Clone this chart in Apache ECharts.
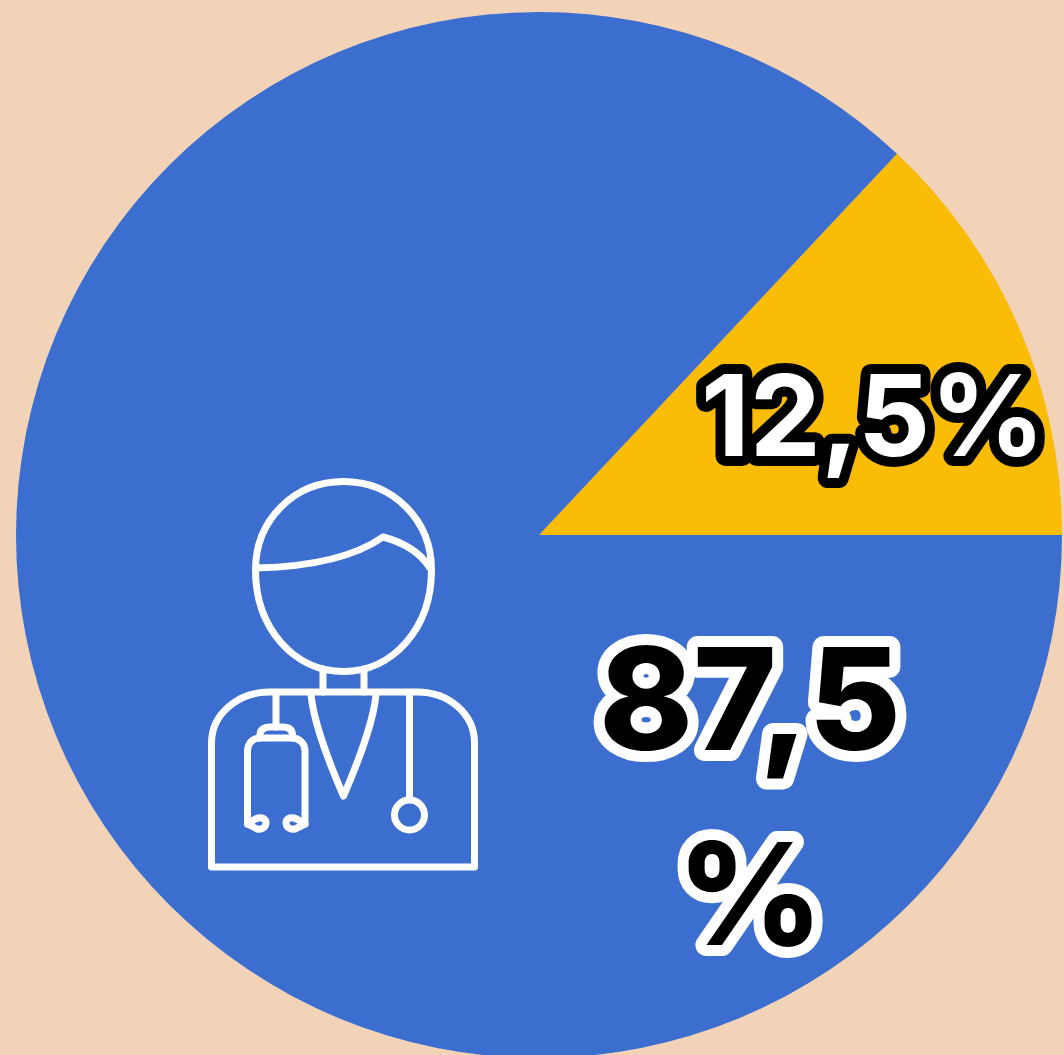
<!DOCTYPE html>
<html><head><meta charset="utf-8">
<style>html,body{margin:0;padding:0;background:#F3D3B8}#c{width:1064px;height:1055px}</style>
<script src="https://cdn.jsdelivr.net/npm/echarts@6/dist/echarts.min.js"></script>
</head><body><div id="c"></div>
<script>
const categories = ['Sí', 'No'];
const shares = [13, 87];
const labels = ['12,5%', '87,5\n%'];
const sliceColors = ['#FBBC05', '#3C6ECF'];

const iconStroke = {fill: 'none', stroke: '#fff', lineWidth: 7, lineJoin: 'round', lineCap: 'round'};
const iconPaths = [
  'M255.5 570 C255.5 520 294 481.5 343.5 481.5 C393 481.5 431.5 520 431.5 570 C431.5 628 393 671.5 343.5 671.5 C294 671.5 255.5 628 255.5 570 Z',
  'M256.5 568 C300 567 350 560 383 537 C402 542 420 552 430 568',
  'M323 669 V692 M364 669 V692',
  'M211.5 867 V743 C211.5 714 238 692 270 692 H417 C449 692 474.5 714 474.5 743 V867 Z',
  'M311 694 C313 720 330 765 343.5 796 C357 765 374 720 376 694',
  'M276 693 V727',
  'M260 738 V735 C260 729 265 727 270 727 H282 C288 727 292.5 729 292.5 735 V738',
  'M247.5 824 V751 C247.5 743 253 738 260 738 H292 C299 738 305 743 305 751 V824',
  'M247.5 824 L257 829 C262 830 266 827 266 823 C266 819 262 817 258 818 C254 819 251 822 247.5 824',
  'M305 824 L295 829 C290 830 286 827 286 823 C286 819 290 817 294 818 C298 819 301 822 305 824',
  'M409.5 695 V798',
  'M424.5 815 A15 15 0 1 1 394.5 815 A15 15 0 1 1 424.5 815 Z'
];
iconPaths.forEach((d, i) => echarts.graphic.registerShape('icon' + i, echarts.graphic.extendPath(d, {})));

const chart = echarts.init(document.getElementById('c'), null, {renderer: 'canvas'});
chart.setOption({
  animation: false,
  backgroundColor: '#F3D3B8',
  tooltip: {show: false},
  series: [{
    type: 'pie',
    center: [539, 535],
    radius: [0, 523],
    startAngle: shares[0] / 100 * 360,
    silent: true,
    avoidLabelOverlap: false,
    labelLine: {show: false},
    labelLayout: p => p.dataIndex === 0
      ? {x: 873, y: 422, align: 'center', verticalAlign: 'middle'}
      : {x: 750, y: 805, align: 'center', verticalAlign: 'middle'},
    data: categories.map((name, i) => ({
      name, value: shares[i],
      itemStyle: {color: sliceColors[i]},
      label: i === 0
        ? {show: true, position: 'inside', formatter: labels[i], color: '#fff', fontFamily: 'Inter', fontWeight: 700, fontSize: 113, textBorderColor: '#000', textBorderWidth: 20, lineHeight: 130}
        : {show: true, position: 'inside', formatter: labels[i], color: '#000', fontFamily: 'Inter', fontWeight: 800, fontSize: 142, textBorderColor: '#fff', textBorderWidth: 22, lineHeight: 195, align: 'center'}
    }))
  }],
  graphic: iconPaths.map((d, i) => ({type: 'icon' + i, silent: true, z: 50, style: iconStroke}))
});

const zr = chart.getZr();
zr.refreshImmediately();
zr.storage.getDisplayList(true).forEach(el => {
  if (el.style && el.style.text) { el.style.lineJoin = 'round'; el.dirty(); }
});
zr.refreshImmediately();
</script></body></html>
